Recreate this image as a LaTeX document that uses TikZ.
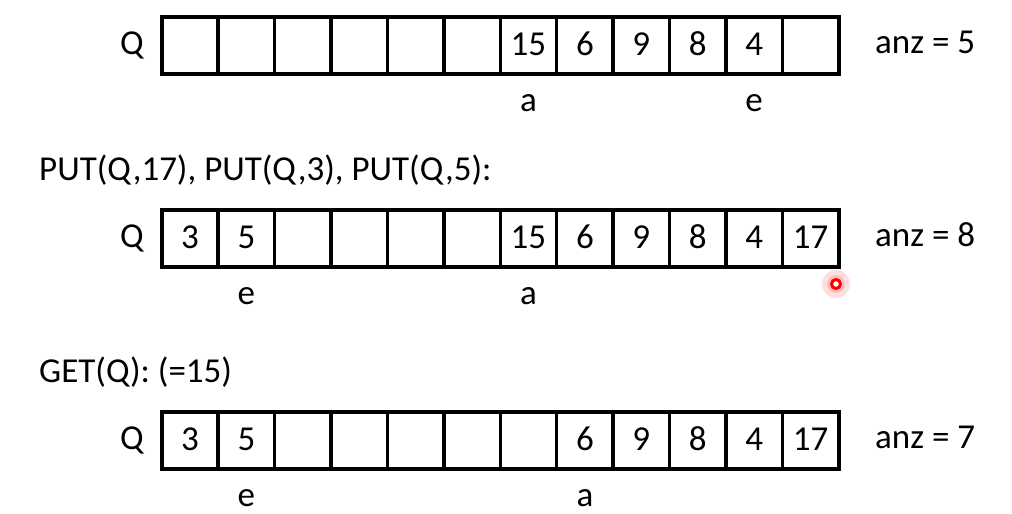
\documentclass[tikz,border=0pt]{standalone}
\usepackage{fontspec}
\setmainfont{Carlito}
\newcommand\bigtxt{\fontsize{35}{42}\selectfont}
\begin{document}
\begin{tikzpicture}[x=1pt,y=-1pt,
  cell/.style={draw,line width=3.5pt,minimum width=56.42pt,minimum height=57pt,
    inner sep=0pt,text height=20pt,text depth=0pt,anchor=north west,font=\bigtxt},
  lbl/.style={inner sep=0pt,anchor=base,font=\bigtxt},
  lblw/.style={inner sep=0pt,anchor=base west,font=\bigtxt}]
\useasboundingbox (0,0) rectangle (1012,514);
% row 1
\foreach \i/\v in {0/{},1/{},2/{},3/{},4/{},5/{},6/15,7/6,8/9,9/8,10/4,11/{}}
  \node[cell] (ra\i) at ({160+56.42*\i},15) {\v};
\node[lbl] (qa) at (132,54.5) {Q};
\node[lblw] (anza) at (875,53.5) {anz = 5};
\node[lbl] (aa) at (ra6.south |- 0,111) {a};
\node[lbl] (ea) at (ra10.south |- 0,111) {e};
% row 2
\node[lblw] (put) at (39,180) {PUT(Q,17), PUT(Q,3), PUT(Q,5):};
\foreach \i/\v in {0/3,1/5,2/{},3/{},4/{},5/{},6/15,7/6,8/9,9/8,10/4,11/17}
  \node[cell] (rb\i) at ({160+56.42*\i},208) {\v};
\node[lbl] (qb) at (132,247.5) {Q};
\node[lblw] (anzb) at (875,246.5) {anz = 8};
\node[lbl] (eb) at (rb1.south |- 0,304) {e};
\node[lbl] (ab) at (rb6.south |- 0,304) {a};
\coordinate (dot) at (836,284);
\fill[red,opacity=0.12] (dot) circle (14);
\fill[red,opacity=0.15] (dot) circle (9);
\draw[red,line width=3pt,fill=white] (dot) circle (4.5);
% row 3
\node[lblw] (get) at (39,382) {GET(Q): (=15)};
\foreach \i/\v in {0/3,1/5,2/{},3/{},4/{},5/{},6/{},7/6,8/9,9/8,10/4,11/17}
  \node[cell] (rc\i) at ({160+56.42*\i},410) {\v};
\node[lbl] (qc) at (132,449.5) {Q};
\node[lblw] (anzc) at (875,448.5) {anz = 7};
\node[lbl] (ec) at (rc1.south |- 0,506) {e};
\node[lbl] (ac) at (rc7.south |- 0,506) {a};
\end{tikzpicture}
\end{document}
